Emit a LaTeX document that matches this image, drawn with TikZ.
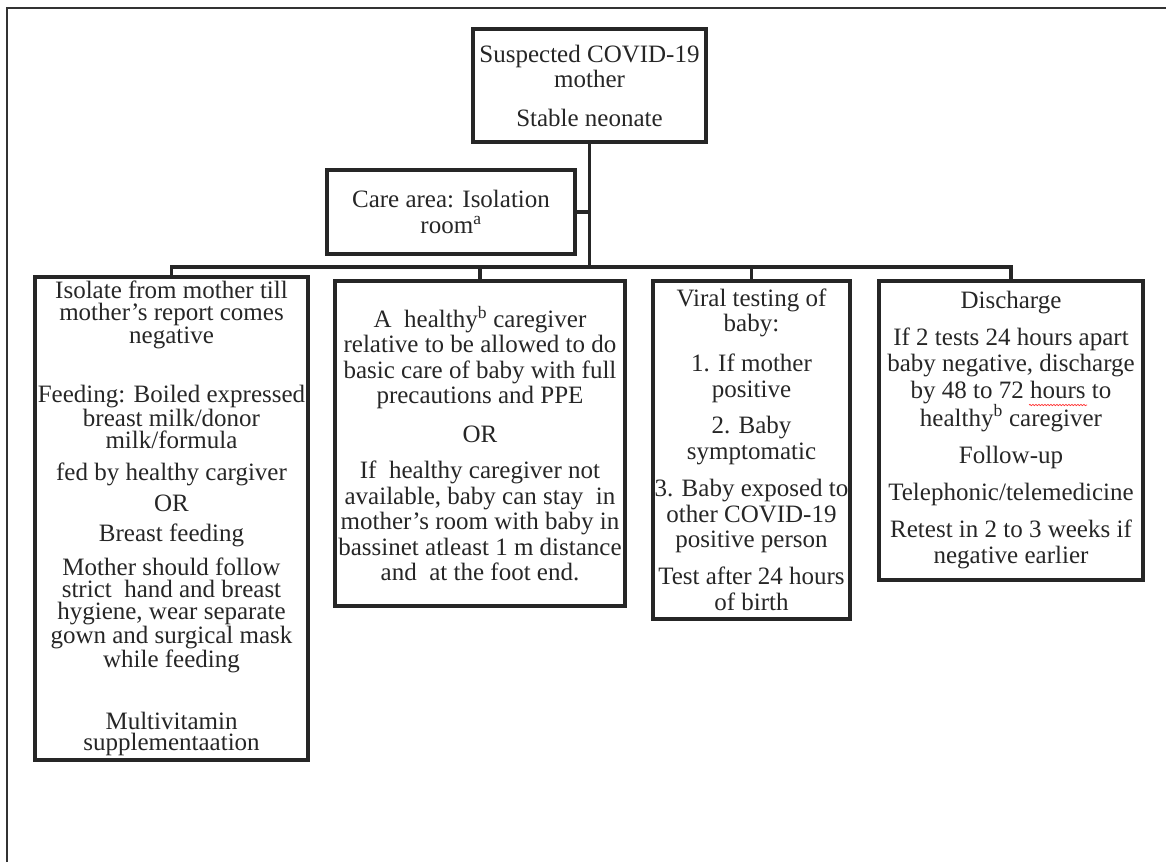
\documentclass[tikz,border=0pt]{standalone}
\usepackage{fontspec}
\setmainfont{Liberation Serif}
\usetikzlibrary{decorations.pathmorphing}

\begin{document}
\begin{tikzpicture}[x=1pt,y=-1pt,
    box/.style={draw=black!85,line width=4pt,rectangle,inner sep=0pt,
      align=center,text=black!85,font=\fontsize{25}{25.5}\selectfont},
    link/.style={draw=black!85,line width=3.5pt}]
  \useasboundingbox (0,0) rectangle (1166,862);
  % page frame, only top and left edges show
  \draw[black!80,line width=1.3pt] (7,862)--(7,8)--(1166,8);
  % top: the case
  \node[box,minimum width=233,minimum height=113] (case) at (589.5,85.5)
    {Suspected COVID-19\\mother\\[13pt]Stable neonate};
  \node[box,minimum width=248,minimum height=84,
    font=\fontsize{25}{26}\selectfont] (care) at (451,212)
    {Care area: Isolation\\room\textsuperscript{a}};
  % the four branches
  \node[box,minimum width=273,minimum height=483,
    font=\fontsize{25}{21.8}\selectfont] (isolate) at (171.5,518.5)
    {Isolate from mother till\\mother’s report comes\\negative\\[36pt]
     Feeding: Boiled expressed\\breast milk/donor\\milk/formula\\[10pt]
     fed by healthy cargiver\\[8pt]OR\\[9pt]Breast feeding\\[10pt]
     Mother should follow\\strict\ \ hand and breast\\hygiene, wear separate\\
     gown and surgical mask\\while feeding\\[38pt]
     Multivitamin\\supplementaation};
  \node[box,minimum width=290,minimum height=325] (carer) at (480,443.5)
    {A\ \ healthy\textsuperscript{b} caregiver\\relative to be allowed to do\\
     basic care of baby with full\\precautions and PPE\\[13.5pt]OR\\[10.5pt]
     If\ \ healthy caregiver not\\available, baby can stay\ \ in\\
     mother’s room with baby in\\bassinet atleast 1 m distance\\
     and\ \ at the foot end.};
  \node[box,minimum width=197,minimum height=338] (viral) at (751.5,449.7)
    {Viral testing of\\baby:\\[14.5pt]1. If mother\\positive\\[11pt]
     2. Baby\\symptomatic\\[12pt]3. Baby exposed to\\other COVID-19\\
     positive person\\[11.5pt]Test after 24 hours\\of birth};
  \node[box,minimum width=264,minimum height=299,
    font=\fontsize{25}{26.5}\selectfont] (disch) at (1011,430)
    {Discharge\\[10.5pt]If 2 tests 24 hours apart\\baby negative, discharge\\
     by 48 to 72 hours to\\healthy\textsuperscript{b} caregiver\\[10.5pt]
     Follow-up\\[10.5pt]Telephonic/telemedicine\\[10.5pt]
     Retest in 2 to 3 weeks if\\negative earlier};
  % connectors
  \coordinate (bus) at (589.5,267);
  \draw[link] (case.south)--(bus);
  \draw[link] (care.east)--(care.east -| bus);
  \draw[link] (isolate.north)--(isolate.north |- bus)--(disch.north |- bus)
    --(disch.north);
  \draw[link] (carer.north)--(carer.north |- bus);
  \draw[link] (viral.north)--(viral.north |- bus);
  % spell-check mark under hours
  \draw[red!80,line width=0.7pt,decorate,
    decoration={snake,amplitude=0.7pt,segment length=3pt}] (1029,405)--(1087,405);
\end{tikzpicture}
\end{document}
